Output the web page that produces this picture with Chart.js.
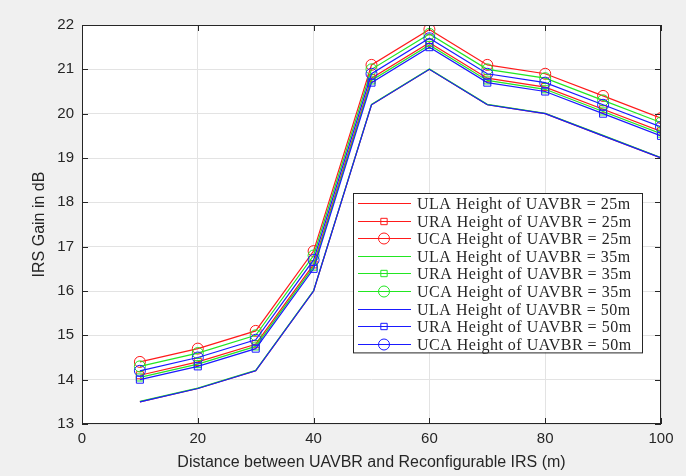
<!DOCTYPE html>
<html>
<head>
<meta charset="utf-8">
<script src="https://cdn.jsdelivr.net/npm/chart.js@4"></script>
<style>
  html, body { margin: 0; padding: 0; background: #f0f0f0; }
  #wrap { width: 686px; height: 476px; }
</style>
</head>
<body>
<div id="wrap"><canvas id="irsChart" width="686" height="476"></canvas></div>
<script>
// distance values (m)
const distances = [10, 20, 30, 40, 50, 60, 70, 80, 90, 100];

// IRS gain (dB) per array type / UAVBR height
const ula25 = [13.5, 13.8, 14.2, 16.0, 20.2, 21.0, 20.2, 20.0, 19.5, 19.0];
const ura25 = [14.1, 14.4, 14.8, 16.6, 20.8, 21.6, 20.8, 20.6, 20.1, 19.6];
const uca25 = [14.4, 14.7, 15.1, 16.9, 21.1, 21.9, 21.1, 20.9, 20.4, 19.9];
const ula35 = [13.51, 13.81, 14.21, 16.01, 20.21, 21.01, 20.21, 20.01, 19.51, 19.01];
const ura35 = [14.05, 14.35, 14.75, 16.55, 20.75, 21.55, 20.75, 20.55, 20.05, 19.55];
const uca35 = [14.3, 14.6, 15.0, 16.8, 21.0, 21.8, 21.0, 20.8, 20.3, 19.8];
const ula50 = [13.5, 13.8, 14.2, 16.0, 20.2, 21.0, 20.2, 20.0, 19.5, 19.0];
const ura50 = [14.0, 14.3, 14.7, 16.5, 20.7, 21.5, 20.7, 20.5, 20.0, 19.5];
const uca50 = [14.2, 14.5, 14.9, 16.7, 20.9, 21.7, 20.9, 20.7, 20.2, 19.7];

const seriesLabels = [
  'ULA Height of UAVBR = 25m', 'URA Height of UAVBR = 25m', 'UCA Height of UAVBR = 25m',
  'ULA Height of UAVBR = 35m', 'URA Height of UAVBR = 35m', 'UCA Height of UAVBR = 35m',
  'ULA Height of UAVBR = 50m', 'URA Height of UAVBR = 50m', 'UCA Height of UAVBR = 50m'
];
const seriesValues = [ula25, ura25, uca25, ula35, ura35, uca35, ula50, ura50, uca50];

const xTicks = [0, 20, 40, 60, 80, 100];
const yTicks = [13, 14, 15, 16, 17, 18, 19, 20, 21, 22];

const colors = ['#ff1a1a', '#22e622', '#1a1aff'];
const markers = [false, 'rect', 'circle'];

function makeSet(i) {
  const col = colors[Math.floor(i / 3)];
  const mk = markers[i % 3];
  return {
    label: seriesLabels[i],
    data: seriesValues[i].map((v, k) => ({ x: distances[k], y: v })),
    order: 8 - i, // later series on top, like matlab
    borderColor: col,
    backgroundColor: 'transparent',
    borderWidth: 1.2,
    pointStyle: mk || 'circle',
    pointRadius: mk === 'rect' ? 5 : (mk === 'circle' ? 5.5 : 0),
    pointBorderColor: col,
    pointBackgroundColor: 'transparent',
    pointBorderWidth: 1,
    tension: 0
  };
}

/** background: grey figure, white axes */
const bgPlugin = {
  id: 'bg',
  beforeDraw(chart) {
    const { ctx, chartArea: a } = chart;
    ctx.save();
    ctx.fillStyle = '#f0f0f0';
    ctx.fillRect(0, 0, chart.width, chart.height);
    ctx.fillStyle = '#ffffff';
    ctx.fillRect(a.left, a.top, a.right - a.left, a.bottom - a.top);
    ctx.restore();
  }
};

/** axes box with inward ticks, matlab style */
const boxPlugin = {
  id: 'box',
  afterDatasetsDraw(chart) {
    const { ctx, chartArea: a, scales } = chart;
    ctx.save();
    ctx.strokeStyle = '#262626';
    ctx.lineWidth = 1;
    ctx.strokeRect(a.left + 0.5, a.top + 0.5, a.right - a.left - 1, a.bottom - a.top - 1);
    ctx.beginPath();
    xTicks.forEach(t => {
      const px = Math.round(scales.x.getPixelForValue(t)) + 0.5;
      ctx.moveTo(px, a.bottom); ctx.lineTo(px, a.bottom - 6);
      ctx.moveTo(px, a.top); ctx.lineTo(px, a.top + 6);
    });
    yTicks.forEach(t => {
      const py = Math.round(scales.y.getPixelForValue(t)) + 0.5;
      ctx.moveTo(a.left, py); ctx.lineTo(a.left + 6, py);
      ctx.moveTo(a.right, py); ctx.lineTo(a.right - 6, py);
    });
    ctx.stroke();
    ctx.restore();
  }
};

/** legend box inside plot */
const legendPlugin = {
  id: 'boxLegend',
  afterDraw(chart) {
    const { ctx } = chart;
    const x0 = 353, y0 = 193, w = 289, rowH = 17.6;
    const h = rowH * chart.data.datasets.length + 1;
    ctx.save();
    ctx.fillStyle = '#ffffff';
    ctx.fillRect(x0, y0, w, h);
    ctx.strokeStyle = '#262626';
    ctx.lineWidth = 1;
    ctx.strokeRect(x0 + 0.5, y0 + 0.5, w, h);
    ctx.font = '16px "Liberation Serif", "DejaVu Serif", serif';
    ctx.letterSpacing = '0.5px';
    ctx.textBaseline = 'middle';
    chart.data.datasets.forEach((ds, i) => {
      const cy = Math.round(y0 + 10 + i * rowH) + 0.5;
      ctx.lineWidth = 1;
      ctx.strokeStyle = ds.borderColor;
      ctx.beginPath();
      ctx.moveTo(x0 + 5, cy);
      ctx.lineTo(x0 + 58, cy);
      ctx.stroke();
      if (ds.pointRadius > 0) {
        ctx.fillStyle = 'rgba(0,0,0,0)';
        Chart.helpers.drawPoint(ctx, {
          pointStyle: ds.pointStyle, rotation: 0, borderWidth: 1,
          radius: ds.pointStyle === 'rect' ? 4.5 : 5.5
        }, x0 + 31, cy);
      }
      ctx.fillStyle = '#262626';
      ctx.fillText(ds.label, x0 + 64, cy + 1);
    });
    ctx.restore();
  }
};

const tickFont = { family: '"Liberation Sans", Arial, sans-serif', size: 15 };
const titleFont = { family: '"Liberation Sans", Arial, sans-serif', size: 16 };

new Chart(document.getElementById('irsChart'), {
  type: 'line',
  data: { datasets: seriesValues.map((_, i) => makeSet(i)) },
  options: {
    responsive: false,
    animation: false,
    layout: { padding: { left: 26, right: 25, top: 25, bottom: 0 } },
    plugins: { legend: { display: false }, tooltip: { enabled: false } },
    scales: {
      x: {
        type: 'linear', min: 0, max: 100,
        afterBuildTicks: s => { s.ticks = xTicks.map(v => ({ value: v })); },
        afterFit: s => { s.height = 52; },
        grid: { color: '#e3e3e3', drawTicks: false },
        border: { display: false },
        ticks: { font: tickFont, color: '#262626', padding: 6, maxRotation: 0 },
        title: { display: true, text: 'Distance between UAVBR and Reconfigurable IRS (m)', font: titleFont, color: '#262626', padding: { top: 0 } }
      },
      y: {
        type: 'linear', min: 13, max: 22,
        afterBuildTicks: s => { s.ticks = yTicks.map(v => ({ value: v })); },
        afterFit: s => { s.width = 56; },
        grid: { color: '#e3e3e3', drawTicks: false },
        border: { display: false },
        ticks: { font: tickFont, color: '#262626', padding: 8 },
        title: { display: true, text: 'IRS Gain in dB', font: titleFont, color: '#262626', padding: { top: 4, bottom: 4 } }
      }
    }
  },
  plugins: [bgPlugin, boxPlugin, legendPlugin]
});
</script>
</body>
</html>
